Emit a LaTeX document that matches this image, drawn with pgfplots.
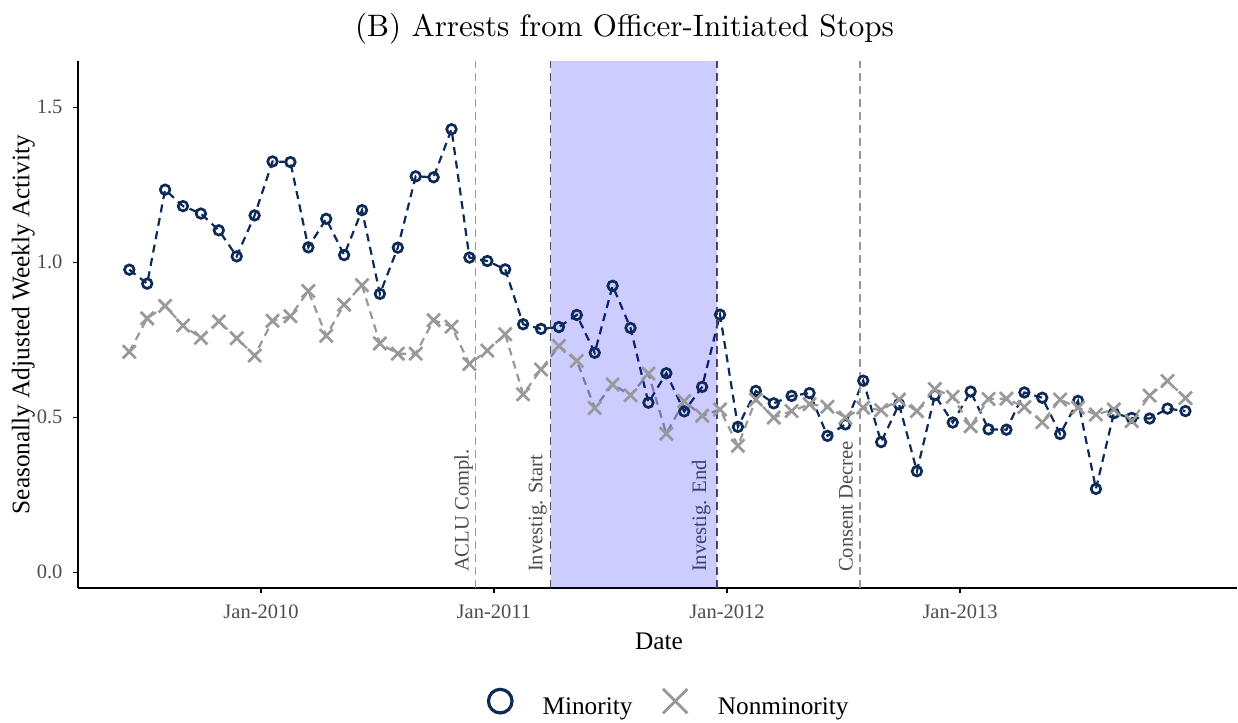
\documentclass[border=0pt]{standalone}
\usepackage{fontspec}
\usepackage{pgfplots}
\pgfplotsset{compat=1.18}
\newfontfamily\tms{Liberation Serif}
\newfontfamily\lmten{lmroman10-regular.otf}
\definecolor{navy}{RGB}{14,42,88}
\definecolor{xgray}{RGB}{153,153,153}
\definecolor{tickgray}{RGB}{77,77,77}

\pgfplotstableread{
i   mino   nonmino
0   0.976  0.711
1   0.931  0.819
2   1.234  0.859
3   1.181  0.796
4   1.157  0.756
5   1.103  0.809
6   1.019  0.755
7   1.151  0.699
8   1.325  0.811
9   1.323  0.826
10  1.048  0.907
11  1.140  0.763
12  1.023  0.863
13  1.168  0.926
14  0.898  0.738
15  1.047  0.705
16  1.277  0.705
17  1.274  0.813
18  1.429  0.792
19  1.015  0.672
20  1.004  0.715
21  0.977  0.768
22  0.800  0.574
23  0.785  0.654
24  0.791  0.730
25  0.830  0.682
26  0.708  0.530
27  0.924  0.606
28  0.788  0.571
29  0.547  0.641
30  0.642  0.447
31  0.519  0.552
32  0.598  0.505
33  0.831  0.525
34  0.469  0.408
35  0.585  0.557
36  0.545  0.499
37  0.569  0.520
38  0.578  0.542
39  0.440  0.534
40  0.477  0.499
41  0.618  0.531
42  0.420  0.523
43  0.542  0.557
44  0.326  0.520
45  0.571  0.591
46  0.483  0.566
47  0.583  0.471
48  0.461  0.559
49  0.460  0.560
50  0.580  0.533
51  0.563  0.484
52  0.446  0.557
53  0.553  0.531
54  0.269  0.509
55  0.513  0.525
56  0.498  0.488
57  0.496  0.570
58  0.528  0.617
59  0.520  0.562
}\datatable

\begin{document}
\begin{tikzpicture}
\useasboundingbox (0,0) rectangle (619pt,361.5pt);
\begin{axis}[
  at={(39pt,67.5pt)}, anchor=south west,
  width=579.5pt, height=263.5pt, scale only axis,
  xmin=-2.866, xmax=61.88, ymin=-0.0506, ymax=1.649,
  axis x line*=bottom, axis y line*=left,
  axis line style={black, line width=0.8pt, -},
  xtick={7.36,20.37,33.39,46.41},
  xticklabels={Jan-2010,Jan-2011,Jan-2012,Jan-2013},
  ytick={0,0.5,1,1.5},
  yticklabels={0.0,0.5,1.0,1.5},
  tick align=outside, major tick length=2.75pt,
  tick style={black, line width=0.6pt},
  ticklabel style={font=\tms\fontsize{10.25}{12}\selectfont, text=tickgray, inner sep=0pt},
  xticklabel style={anchor=base, yshift=-12.5pt},
  yticklabel style={anchor=east, xshift=-4.85pt},
  xlabel={Date},
  xlabel style={at={(axis description cs:0.5013,-0.1176)}, anchor=base, inner sep=0pt, font=\tms\fontsize{12.65}{14}\selectfont},
  ylabel={Seasonally Adjusted Weekly Activity},
  ylabel style={at={(axis description cs:-0.04185,0.5)}, anchor=base, rotate=0, inner sep=0pt, font=\tms\fontsize{12.65}{14}\selectfont},
  every axis title shift=0pt,
  title={(B) Arrests from Officer-Initiated Stops},
  title style={at={(axis description cs:0.4715,1.0474)}, anchor=base, inner sep=0pt, font=\lmten\fontsize{15.5}{18}\selectfont},
  legend style={draw=none, fill=none, legend columns=-1, at={(0.3538,-0.2182)}, anchor=west, inner sep=0pt,
    font=\tms\fontsize{12.65}{14}\selectfont,
    /tikz/every odd column/.append style={column sep=15.25pt},
    /tikz/every even column/.append style={column sep=15.25pt},
    nodes={inner sep=0pt}},
  legend image code/.code={\draw[#1] plot coordinates {(0pt,3pt)};},
]
\addlegendimage{only marks, mark=o, mark size=5.9pt, line width=1.6pt, navy}
\addlegendentry{Minority}
\addlegendimage{only marks, mark=x, mark size=8.6pt, line width=1.4pt, xgray}
\addlegendentry{Nonminority}

\addplot[forget plot, navy, line width=1.1pt, dash pattern=on 4pt off 2.8pt, mark=o, mark size=2.4pt, mark options={solid, line width=1.35pt}] table[x=i, y=mino] {\datatable};
\addplot[forget plot, xgray, line width=1.1pt, dash pattern=on 4pt off 2.8pt, mark=x, mark size=4.6pt, mark options={solid, line width=1.35pt}] table[x=i, y=nonmino] {\datatable};

\draw[xgray, line width=0.8pt, dash pattern=on 4pt off 2.5pt] (axis cs:19.33,-0.0506) -- (axis cs:19.33,1.649);
\draw[xgray, line width=0.8pt, dash pattern=on 4pt off 2.5pt] (axis cs:40.82,-0.0506) -- (axis cs:40.82,1.649);
\draw[tickgray, line width=0.8pt, dash pattern=on 4pt off 2.5pt] (axis cs:23.54,-0.0506) -- (axis cs:23.54,1.649);
\draw[tickgray, line width=0.8pt, dash pattern=on 4pt off 2.5pt] (axis cs:32.82,-0.0506) -- (axis cs:32.82,1.649);

\node[rotate=90, anchor=base west, inner sep=0pt, font=\tms\fontsize{10.3}{12}\selectfont, text=tickgray] at (axis cs:18.95,0) {ACLU Compl.};
\node[rotate=90, anchor=base west, inner sep=0pt, font=\tms\fontsize{10.3}{12}\selectfont, text=tickgray] at (axis cs:23.08,0) {Investig. Start};
\node[rotate=90, anchor=base west, inner sep=0pt, font=\tms\fontsize{10.3}{12}\selectfont, text=tickgray] at (axis cs:32.22,0) {Investig. End};
\node[rotate=90, anchor=base west, inner sep=0pt, font=\tms\fontsize{10.3}{12}\selectfont, text=tickgray] at (axis cs:40.41,0) {Consent Decree};

\fill[blue, fill opacity=0.2] (axis cs:23.54,-0.0506) rectangle (axis cs:32.82,1.649);
\end{axis}
\end{tikzpicture}
\end{document}
